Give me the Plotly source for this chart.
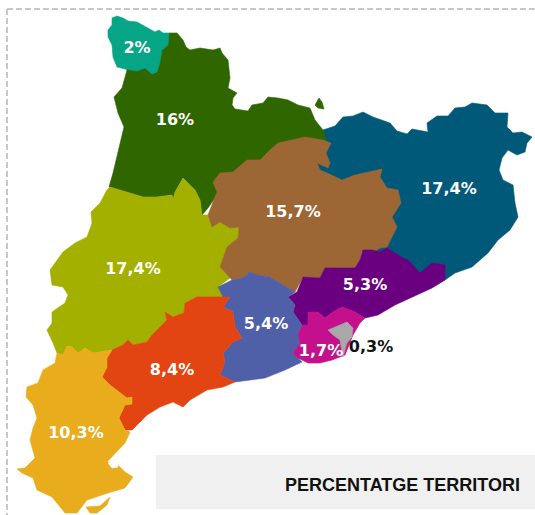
import plotly.graph_objects as go

GIRONA = [(323,130),(335,126),(343,117),(353,116),(363,112),(373,117),(390,123),(397,131),(407,134),(412,129),(428,132),(427,123),(437,116),(448,116),(455,108),(465,107),(472,103),(487,105),(495,113),(508,113),(507,127),(513,133),(522,132),(532,137),(527,143),(525,152),(517,155),(508,150),(502,158),(499,170),(503,180),(513,185),(515,203),(518,217),(510,230),(498,240),(488,253),(472,267),(455,273),(445,280),(430,285),(400,275),(370,258),(370,240),(360,215),(330,185),(310,165),(315,140)]
ALT_PIRINEU = [(169,33),(177,33),(183,40),(186,47),(190,50),(200,48),(213,50),(220,48),(222,53),(228,60),(230,78),(228,88),(237,93),(233,98),(232,105),(235,109),(248,111),(252,105),(263,103),(268,97),(278,98),(288,100),(298,105),(310,108),(315,120),(323,130),(326,140),(305,150),(270,160),(260,165),(233,180),(220,190),(217,195),(208,208),(202,215),(200,200),(195,190),(187,182),(183,178),(175,192),(173,200),(172,195),(157,197),(143,197),(127,192),(109,187),(113,173),(117,157),(122,138),(124,127),(118,113),(114,97),(122,88),(127,70),(125,60),(165,40)]
LLIVIA = [(315,105),(319,98),(322,102),(324,109),(318,108)]
PONENT = [(110,187),(127,192),(143,197),(157,197),(172,195),(173,200),(175,192),(183,178),(187,182),(195,190),(200,200),(202,215),(208,215),(212,227),(220,222),(230,228),(239,227),(238,238),(227,247),(224,255),(220,267),(230,278),(218,287),(223,297),(197,297),(185,303),(184,313),(173,317),(165,312),(167,320),(152,335),(147,342),(133,345),(128,340),(123,345),(112,350),(93,353),(85,348),(78,353),(72,347),(67,346),(63,355),(57,353),(53,343),(47,330),(52,323),(52,312),(65,303),(68,295),(63,287),(52,285),(50,270),(55,263),(58,258),(63,252),(75,243),(87,237),(92,223),(91,212),(100,203),(107,190)]
CENTRAL = [(305,137),(323,140),(331,143),(326,153),(330,163),(328,168),(317,163),(320,170),(327,173),(342,180),(355,175),(368,172),(382,169),(380,177),(387,188),(398,190),(401,203),(392,217),(397,227),(387,247),(380,248),(372,253),(362,252),(360,260),(355,268),(325,268),(320,278),(303,277),(295,292),(288,288),(270,277),(257,275),(250,272),(243,278),(232,280),(220,267),(224,255),(227,247),(238,238),(239,227),(230,228),(220,222),(212,227),(208,215),(217,192),(213,182),(220,173),(233,172),(247,160),(260,160),(270,150),(278,143),(292,140)]
METRO_NORD = [(363,250),(372,250),(380,252),(387,248),(403,258),(408,260),(420,273),(432,263),(445,265),(445,280),(432,288),(412,297),(395,305),(378,315),(365,318),(355,312),(342,307),(333,312),(325,318),(318,312),(308,312),(308,325),(302,325),(293,312),(295,305),(288,297),(297,292),(303,277),(320,278),(325,268),(355,268),(360,260)]
BAIX_LLOBREGAT = [(308,312),(318,312),(325,318),(333,312),(342,307),(355,312),(365,318),(360,323),(353,335),(345,355),(332,360),(320,363),(308,363),(298,358),(293,353),(300,343),(298,335),(302,325),(308,325)]
BARCELONA = [(328,330),(333,328),(340,325),(347,322),(353,328),(352,337),(347,343),(343,357),(342,352),(340,340),(333,335)]
PENEDES = [(218,287),(232,280),(243,278),(250,272),(257,275),(270,277),(288,288),(295,292),(288,297),(295,305),(293,312),(302,325),(298,335),(300,343),(293,353),(298,358),(302,362),(285,370),(265,378),(235,382),(220,375),(225,362),(223,353),(233,342),(242,338),(235,327),(233,312),(223,307),(230,297),(223,297)]
CAMP_TARRAGONA = [(223,297),(230,297),(223,307),(233,312),(235,327),(242,338),(233,342),(223,353),(225,362),(220,375),(235,382),(223,387),(207,390),(190,400),(183,407),(173,402),(160,407),(147,415),(132,430),(125,430),(119,418),(125,405),(132,404),(132,397),(127,398),(110,385),(102,377),(107,367),(107,358),(112,350),(123,345),(128,340),(133,345),(147,342),(152,335),(167,320),(165,312),(173,317),(184,313),(185,303),(197,297)]
TERRES_EBRE = [(112,350),(107,358),(107,367),(102,377),(110,385),(127,398),(132,397),(132,404),(125,405),(119,418),(125,430),(130,432),(125,443),(107,462),(118,465),(125,472),(133,477),(125,488),(108,493),(87,500),(77,513),(65,513),(52,497),(37,490),(33,478),(22,473),(17,469),(25,468),(35,458),(30,440),(33,428),(37,418),(33,405),(26,397),(27,387),(38,383),(43,370),(55,363),(57,353),(63,355),(67,346),(72,347),(78,353),(85,348),(93,353)]
ALFACS = [(86,507),(100,506),(110,497),(107,505),(97,513),(90,513)]
ARAN = [(112,18),(117,16),(123,18),(128,21),(137,22),(147,28),(155,32),(159,30),(163,33),(169,33),(168,45),(162,50),(160,62),(157,72),(152,74),(145,68),(137,71),(125,69),(117,67),(113,57),(112,45),(108,37),(108,30),(112,25)]
LAGOON = [(108,463),(117,462),(118,467),(112,468)]

REGIONS = [
    ("Comarques Gironines", [GIRONA], "#01597A"),
    ("Alt Pirineu", [ALT_PIRINEU, LLIVIA], "#2F6600"),
    ("Ponent", [PONENT], "#A3B000"),
    ("Comarques Centrals", [CENTRAL], "#9C6635"),
    ("Metropolità Nord", [METRO_NORD], "#6A0080"),
    ("Penedès", [PENEDES], "#4F5FA8"),
    ("Baix Llobregat", [BAIX_LLOBREGAT], "#C4108C"),
    ("Barcelona", [BARCELONA], "#A8A8A8"),
    ("Camp de Tarragona", [CAMP_TARRAGONA], "#E24412"),
    ("Terres de l'Ebre", [TERRES_EBRE, ALFACS], "#E8AC1C"),
    ("Aran", [ARAN], "#05A585"),
    ("Llacuna", [LAGOON], "#FFFFFF"),
]

LABELS = ["2%", "16%", "17,4%", "15,7%", "17,4%", "5,3%", "5,4%", "1,7%", "0,3%", "8,4%", "10,3%"]
LABEL_X = [137, 175, 133, 293, 449, 365, 266, 321, 371, 172, 76]
LABEL_Y = [48.5, 120.5, 269.5, 212.5, 189.5, 285.5, 324.5, 351.5, 347.5, 370.5, 433.5]
LABEL_COLORS = ["#FFFFFF"] * 8 + ["#111111"] + ["#FFFFFF"] * 2
TITLE = "PERCENTATGE TERRITORI"

fig = go.Figure()
for name, parts, color in REGIONS:
    xs, ys = [], []
    for part in parts:
        xs += [p[0] for p in part] + [part[0][0], None]
        ys += [p[1] for p in part] + [part[0][1], None]
    fig.add_trace(go.Scatter(x=xs, y=ys, mode="lines", fill="toself", fillcolor=color,
                             line=dict(color=color, width=0.6), name=name, hoverinfo="name"))

fig.add_trace(go.Scatter(x=LABEL_X, y=LABEL_Y, mode="text", text=LABELS, cliponaxis=False,
                         textposition="middle center", hoverinfo="skip",
                         textfont=dict(family="DejaVu Sans", size=16, color=LABEL_COLORS, weight="bold")))

fig.add_shape(type="rect", x0=156, x1=535, y0=455, y1=509, fillcolor="#F0F0F0", line_width=0, layer="below")
for x0, y0, x1, y1 in [(7, 9, 535, 9), (7, 9, 7, 515)]:
    fig.add_shape(type="line", x0=x0, y0=y0, x1=x1, y1=y1, line=dict(color="#C8C8C8", width=2, dash="6px,3px"), layer="below")

fig.add_annotation(x=402, y=485, text=f"<b>{TITLE}</b>", showarrow=False,
                   font=dict(family="Liberation Sans", size=18, color="#111111"))

fig.update_layout(width=535, height=515, margin=dict(l=0, r=0, t=0, b=0), showlegend=False,
                  paper_bgcolor="white", plot_bgcolor="white",
                  xaxis=dict(range=[0, 535], visible=False, fixedrange=True),
                  yaxis=dict(range=[515, 0], visible=False, fixedrange=True))

fig.write_html("out.html", config={"displayModeBar": False},
               post_script="document.body.style.margin='0';document.documentElement.style.overflow='hidden';")
